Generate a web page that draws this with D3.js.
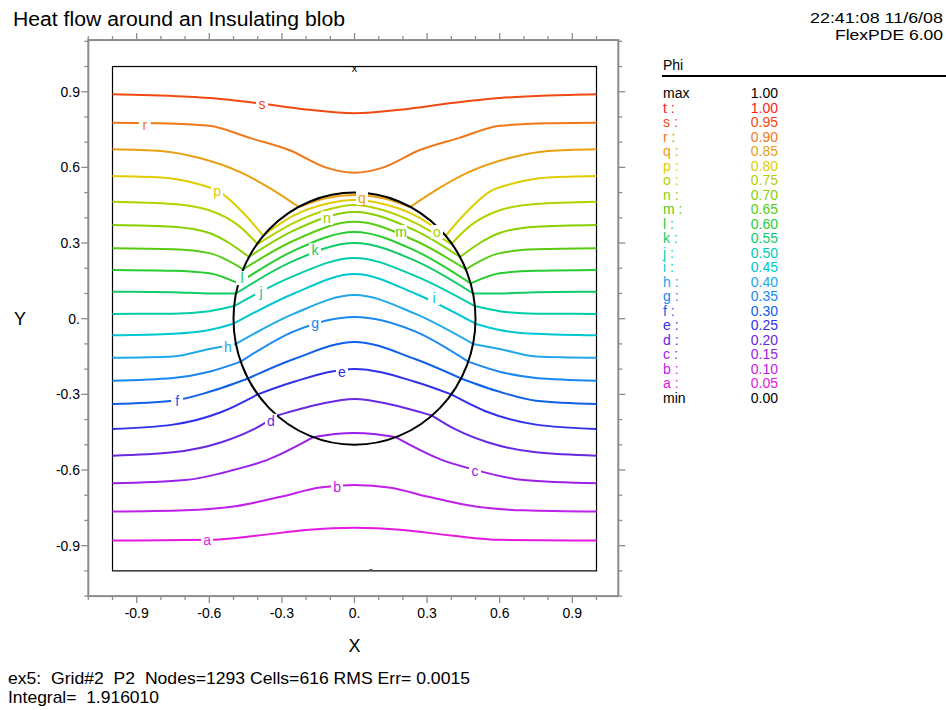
<!DOCTYPE html>
<html><head><meta charset="utf-8">
<script src="https://cdn.jsdelivr.net/npm/d3@7"></script>
<style>body{margin:0;background:#fff}svg{display:block}text{font-family:Arial,"Liberation Sans",sans-serif;white-space:pre}</style>
</head><body><svg id="c" width="946" height="710"></svg>
<script>
// ---- legend / levels ----
const levelNames  = ["a","b","c","d","e","f","g","h","i","j","k","l","m","n","o","p","q","r","s","t"];
const levelValues = ["0.05","0.10","0.15","0.20","0.25","0.30","0.35","0.40","0.45","0.50","0.55","0.60","0.65","0.70","0.75","0.80","0.85","0.90","0.95","1.00"];
const levelColors = ["#e418e0","#c020e8","#9a20e8","#6a28e0","#3030e8","#1060e8","#1888f0","#20a8e8","#00c8d0","#00ccaa","#10cc68","#28cc30","#58cc10","#88d000","#b4d200","#e0cc00","#e8a010","#f07818","#f04a10","#ff2020"];
const xTickLabels = ["-0.9","-0.6","-0.3","0.","0.3","0.6","0.9"];
const xTickValues = [-0.9,-0.6,-0.3,0,0.3,0.6,0.9];
const yTickLabels = ["0.9","0.6","0.3","0.","-0.3","-0.6","-0.9"];
const yTickValues = [0.9,0.6,0.3,0,-0.3,-0.6,-0.9];

// ---- contour traces (left half, data units; plot is mirror-symmetric about x=0) ----
const s_out = [[-1,0.890],[-0.8,0.885],[-0.6,0.875],[-0.4,0.855],[-0.2,0.83],[0,0.815]];
const r_out = [[-1,0.777],[-0.8,0.775],[-0.6,0.765],[-0.43,0.716],[-0.27,0.669],[-0.12,0.60],[0,0.579]];
const q_out = [[-1,0.672],[-0.8,0.665],[-0.64,0.637],[-0.47,0.58],[-0.35,0.518],[-0.23,0.443]];
const p_out = [[-1,0.566],[-0.8,0.56],[-0.65,0.535],[-0.556,0.502],[-0.46,0.42],[-0.378,0.33]];
const o_out = [[-1,0.464],[-0.75,0.455],[-0.6,0.43],[-0.48,0.37],[-0.40,0.296]];
const n_out = [[-1,0.372],[-0.75,0.365],[-0.6,0.34],[-0.436,0.245]];
const m_out = [[-1,0.279],[-0.75,0.275],[-0.6,0.26],[-0.46,0.196]];
const l_out = [[-1,0.193],[-0.75,0.19],[-0.6,0.18],[-0.48,0.14]];
const k_out = [[-1,0.107],[-0.75,0.105],[-0.6,0.10],[-0.49,0.10]];
const j_out = [[-1,0.019],[-0.75,0.02],[-0.6,0.03],[-0.497,0.05]];
const i_out = [[-1,-0.066],[-0.75,-0.06],[-0.6,-0.045],[-0.5,-0.02]];
const h_out = [[-1,-0.155],[-0.75,-0.15],[-0.6,-0.12],[-0.49,-0.10]];
const g_out = [[-1,-0.246],[-0.75,-0.235],[-0.6,-0.21],[-0.47,-0.17]];
const f_out = [[-1,-0.338],[-0.75,-0.325],[-0.6,-0.29],[-0.44,-0.237]];
const e_out = [[-1,-0.437],[-0.75,-0.42],[-0.55,-0.37],[-0.40,-0.30]];
const d_out = [[-1,-0.543],[-0.75,-0.53],[-0.55,-0.49],[-0.42,-0.44],[-0.32,-0.384]];
const c_out = [[-1,-0.653],[-0.7,-0.64],[-0.5,-0.60],[-0.36,-0.56],[-0.17,-0.47]];
const b_out = [[-1,-0.765],[-0.7,-0.76],[-0.5,-0.745],[-0.3,-0.705],[-0.15,-0.67],[0,-0.659]];
const a_out = [[-1,-0.880],[-0.6,-0.877],[-0.4,-0.86],[-0.2,-0.838],[0,-0.829]];
// inside the blob: from the boundary to x=0
const q_in = [[-0.23,0.443],[-0.12,0.478],[0,0.491]];
const p_in = [[-0.378,0.33],[-0.25,0.41],[-0.12,0.455],[0,0.471]];
const o_in = [[-0.40,0.296],[-0.25,0.38],[-0.12,0.43],[0,0.451]];
const n_in = [[-0.436,0.245],[-0.25,0.35],[0,0.423]];
const m_in = [[-0.46,0.196],[-0.25,0.31],[0,0.384]];
const l_in = [[-0.48,0.14],[-0.25,0.27],[0,0.344]];
const k_in = [[-0.49,0.10],[-0.25,0.23],[0,0.300]];
const j_in = [[-0.497,0.05],[-0.25,0.17],[0,0.241]];
const i_in = [[-0.5,-0.02],[-0.25,0.10],[0,0.177]];
const h_in = [[-0.49,-0.10],[-0.25,0.02],[0,0.094]];
const g_in = [[-0.47,-0.17],[-0.25,-0.05],[0,0.007]];
const f_in = [[-0.44,-0.237],[-0.25,-0.16],[0,-0.092]];
const e_in = [[-0.40,-0.30],[-0.25,-0.25],[0,-0.199]];
const d_in = [[-0.32,-0.384],[-0.15,-0.34],[0,-0.318]];
const c_in = [[-0.17,-0.47],[-0.08,-0.457],[0,-0.453]];

// contour label anchors (data units), a..s
const labelX = [-0.609,-0.072,0.498,-0.345,-0.052,-0.733,-0.163,-0.523,0.329,-0.386,-0.163,-0.465,0.192,-0.114,0.341,-0.568,0.031,-0.866,-0.382];
const labelY = [-0.878,-0.667,-0.604,-0.405,-0.211,-0.326,-0.017,-0.113,0.082,0.106,0.272,0.161,0.344,0.399,0.344,0.506,0.479,0.768,0.851];

const blobRadius = 0.5;

// ---- build table ----
const outs = [a_out,b_out,c_out,d_out,e_out,f_out,g_out,h_out,i_out,j_out,k_out,l_out,m_out,n_out,o_out,p_out,q_out,r_out,s_out];
const ins  = [null,null,c_in,d_in,e_in,f_in,g_in,h_in,i_in,j_in,k_in,l_in,m_in,n_in,o_in,p_in,q_in,null,null];
const mirror = pts => pts.map(([x,y]) => [-x,y]).reverse();

const svg = d3.select("#c");
const X = d3.scaleLinear().domain([-1.1,1.1]).range([88.3,620.7]);
const Y = d3.scaleLinear().domain([-1.1,1.1]).range([596.1,41.3]);
const frameL = X(-1.1), frameR = X(1.09), frameT = Y(1.105), frameB = Y(-1.1);

function txt(x,y,s,size,opts={}) {
  const t = svg.append("text").attr("x",x).attr("y",y).attr("font-size",size).text(s);
  if (opts.anchor) t.attr("text-anchor",opts.anchor);
  if (opts.fill) t.attr("fill",opts.fill);
  if (opts.len) t.attr("textLength",opts.len).attr("lengthAdjust","spacingAndGlyphs");
  return t;
}

// frame
svg.append("rect").attr("x",frameL).attr("y",frameT).attr("width",frameR-frameL).attr("height",frameB-frameT)
  .attr("fill","none").attr("stroke","#8c8c8c").attr("stroke-width",2);
const ticks = d3.range(-11,11).map(i=>i/10);
const isMajor = t => Math.abs(Math.round(t*10)) % 3 === 0 && Math.abs(t) < 1.05;
const tg = svg.append("g").attr("stroke","#8c8c8c").attr("stroke-width",1.3);
ticks.forEach(t=>{
  const L = isMajor(t) ? 7 : 4;
  tg.append("line").attr("x1",X(t)).attr("x2",X(t)).attr("y1",frameB).attr("y2",frameB+L);
  tg.append("line").attr("x1",X(t)).attr("x2",X(t)).attr("y1",frameT).attr("y2",frameT-L);
});
d3.range(-11,12).map(i=>i/10).forEach(t=>{
  const L = isMajor(t) ? 7 : 4;
  tg.append("line").attr("y1",Y(t)).attr("y2",Y(t)).attr("x1",frameL).attr("x2",frameL-L);
  tg.append("line").attr("y1",Y(t)).attr("y2",Y(t)).attr("x1",frameR).attr("x2",frameR+L);
});
xTickValues.forEach((v,i)=>txt(X(v),618,xTickLabels[i],14,{anchor:"middle"}));
yTickValues.forEach((v,i)=>txt(80,Y(v)+5,yTickLabels[i],14,{anchor:"end"}));
txt(X(0),652,"X",18,{anchor:"middle"});
txt(20,Y(0)+6,"Y",18,{anchor:"middle"});

// inner domain box
svg.append("rect").attr("x",X(-1)).attr("y",Y(1)).attr("width",X(1)-X(-1)).attr("height",Y(-1)-Y(1))
  .attr("fill","none").attr("stroke","#000").attr("stroke-width",1.2);

// contours
const line = d3.line().x(d=>X(d[0])).y(d=>Y(d[1])).curve(d3.curveMonotoneX);
const cg = svg.append("g").attr("fill","none").attr("stroke-width",2);
outs.forEach((o,i)=>{
  const col = levelColors[i];
  if (ins[i]) {
    cg.append("path").attr("d",line(o)).attr("stroke",col);
    cg.append("path").attr("d",line(mirror(o))).attr("stroke",col);
    cg.append("path").attr("d",line(ins[i].concat(mirror(ins[i]).slice(1)))).attr("stroke",col);
  } else {
    cg.append("path").attr("d",line(o.concat(mirror(o).slice(1)))).attr("stroke",col);
  }
});

// blob
svg.append("ellipse").attr("cx",X(0)).attr("cy",Y(0)).attr("rx",X(blobRadius)-X(0)).attr("ry",Y(0)-Y(blobRadius))
  .attr("fill","none").attr("stroke","#000").attr("stroke-width",2);

// contour labels
labelX.forEach((lx,i)=>{
  svg.append("rect").attr("x",X(lx)-6).attr("y",Y(labelY[i])-7).attr("width",12).attr("height",14).attr("fill","#fff");
  txt(X(lx),Y(labelY[i])+5,levelNames[i],14,{anchor:"middle",fill:levelColors[i]});
});

// small markers on the domain box
txt(X(0),Y(1)+5,"x",11,{anchor:"middle"});
svg.append("line").attr("x1",X(0.06)).attr("x2",X(0.075)).attr("y1",Y(-1)-1).attr("y2",Y(-1)-1).attr("stroke","#555").attr("stroke-width",1.5);

// titles
txt(13,26,"Heat flow around an Insulating blob",20,{len:332});
txt(943,23,"22:41:08 11/6/08",15,{anchor:"end",len:133});
txt(943,40,"FlexPDE 6.00",15,{anchor:"end",len:108});

// legend
txt(663,70,"Phi",14);
svg.append("line").attr("x1",662).attr("x2",946).attr("y1",76).attr("y2",76).attr("stroke","#000").attr("stroke-width",2);
const rows = [["max","1.00","#000"]].concat(levelNames.slice().reverse().map((n,k)=>{const i=levelNames.length-1-k;return [n+" :",levelValues[i],levelColors[i]];})).concat([["min","0.00","#000"]]);
rows.forEach((r,k)=>{
  const yy = 98 + k*14.52;
  txt(663,yy,r[0],14,{fill:r[2]});
  txt(778,yy,r[1],14,{anchor:"end",fill:r[2]});
});

// footer
txt(8,684,"ex5:  Grid#2  P2  Nodes=1293 Cells=616 RMS Err= 0.0015",17,{len:462});
txt(8,703,"Integral=  1.916010",17,{len:151});
</script></body></html>
